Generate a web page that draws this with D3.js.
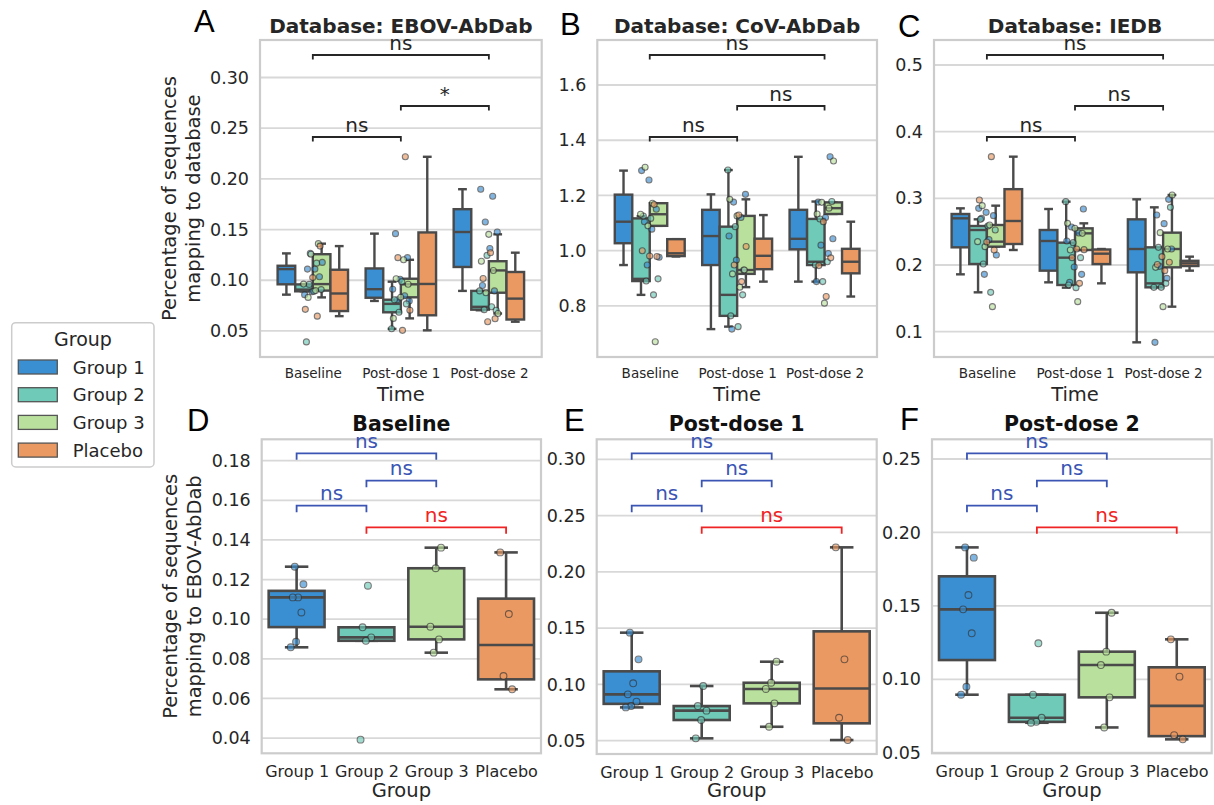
<!DOCTYPE html>
<html><head><meta charset="utf-8">
<script src="https://cdn.jsdelivr.net/npm/d3@7"></script>
<style>
body{margin:0;background:#fff;}
svg{display:block;font-family:"DejaVu Sans",sans-serif;}
</style></head><body>
<svg id="chart" width="1214" height="805"></svg>
<script>
// ---------------- DATA ----------------
const groups = ["Group 1", "Group 2", "Group 3", "Placebo"];
const times = ["Baseline", "Post-dose 1", "Post-dose 2"];

// EBOV-AbDab (% of sequences), per time point, per group
const ebovBaseline = [
  [0.1265, 0.1176, 0.1110, 0.1110, 0.1034, 0.0886, 0.0858],
  [0.1169, 0.0959, 0.0908, 0.0891, 0.0392],
  [0.1361, 0.1257, 0.0962, 0.0898, 0.0831],
  [0.1337, 0.1026, 0.0713, 0.0646]
];
const ebovPost1 = [
  [0.1460, 0.1223, 0.1010, 0.0912, 0.0847, 0.0808, 0.0796],
  [0.0986, 0.0808, 0.0767, 0.0684, 0.0521],
  [0.1202, 0.1015, 0.0960, 0.0832, 0.0624],
  [0.2218, 0.1223, 0.0704, 0.0506]
];
const ebovPost2 = [
  [0.1898, 0.1828, 0.1574, 0.1476, 0.1313, 0.0949, 0.0895],
  [0.1245, 0.0895, 0.0738, 0.0710, 0.0704],
  [0.1453, 0.1188, 0.1097, 0.0877, 0.0672],
  [0.1272, 0.1018, 0.0620, 0.0591]
];
// CoV-AbDab
const covBaseline = [
  [0.948, 0.976, 1.078, 1.105, 1.150, 1.256, 1.290],
  [0.840, 0.890, 0.898, 1.117, 1.125],
  [0.670, 1.090, 1.132, 1.172, 1.302],
  [0.979, 0.981, 1.000, 1.167]
];
const covPost1 = [
  [0.716, 0.930, 0.966, 1.053, 1.120, 1.176, 1.204],
  [0.725, 0.764, 0.840, 1.087, 1.292],
  [0.868, 0.916, 0.930, 1.126, 1.186],
  [0.888, 0.948, 1.015, 1.129]
];
const covPost2 = [
  [0.888, 0.990, 1.020, 1.043, 1.120, 1.176, 1.340],
  [0.888, 0.948, 0.960, 1.115, 1.178],
  [0.810, 1.133, 1.154, 1.175, 1.325],
  [0.834, 0.946, 0.974, 1.105]
];
// IEDB
const iedbBaseline = [
  [0.186, 0.215, 0.238, 0.270, 0.274, 0.279, 0.285],
  [0.159, 0.2015, 0.2525, 0.2585, 0.2685],
  [0.1375, 0.2275, 0.235, 0.260, 0.289],
  [0.2225, 0.2345, 0.2975, 0.3625]
];
const iedbPost1 = [
  [0.174, 0.186, 0.197, 0.236, 0.248, 0.257, 0.284],
  [0.166, 0.170, 0.211, 0.2335, 0.295],
  [0.145, 0.2225, 0.2475, 0.255, 0.2625],
  [0.1725, 0.211, 0.223, 0.224]
];
const iedbPost2 = [
  [0.084, 0.180, 0.198, 0.224, 0.262, 0.275, 0.2985],
  [0.1665, 0.1665, 0.1725, 0.2265, 0.2865],
  [0.1375, 0.1965, 0.224, 0.2485, 0.305],
  [0.1915, 0.2008, 0.2042, 0.2125]
];

// tick labels
const ticksA = [0.05, 0.10, 0.15, 0.20, 0.25, 0.30];
const ticksB = [0.8, 1.0, 1.2, 1.4, 1.6];
const ticksC = [0.1, 0.2, 0.3, 0.4, 0.5];
const ticksD = [0.04, 0.06, 0.08, 0.10, 0.12, 0.14, 0.16, 0.18];
const ticksE = [0.05, 0.10, 0.15, 0.20, 0.25, 0.30];
const ticksF = [0.05, 0.10, 0.15, 0.20, 0.25];

// statistical annotations
const timeTests = [["Baseline", "Post-dose 1"], ["Post-dose 1", "Post-dose 2"], ["Baseline", "Post-dose 2"]];
const ebovTimeLabels = ["ns", "*", "ns"];
const covTimeLabels = ["ns", "ns", "ns"];
const iedbTimeLabels = ["ns", "ns", "ns"];
const groupTests = [["Group 1", "Group 2"], ["Group 2", "Group 3"], ["Group 1", "Group 3"], ["Group 2", "Placebo"]];
const groupTestLabels = ["ns", "ns", "ns", "ns"];

// ---------------- STYLE ----------------
const COLORS = ["#3a8fd3", "#6fcab8", "#b9e09c", "#eb9962"];
const EDGE = "#4a4a4a";
const TXT = "#262626";
const BLUE = "#3a55b4", RED = "#f02424";

const svg = d3.select("#chart");

function boxStats(vals) {
  const s = vals.slice().sort(d3.ascending);
  const q1 = d3.quantile(s, 0.25), med = d3.quantile(s, 0.5), q3 = d3.quantile(s, 0.75);
  const iqr = q3 - q1;
  const hi = q3 + 1.5 * iqr, lo = q1 - 1.5 * iqr;
  let whi = d3.max(s.filter(v => v <= hi)); if (whi === undefined || whi < q3) whi = q3;
  let wlo = d3.min(s.filter(v => v >= lo)); if (wlo === undefined || wlo > q1) wlo = q1;
  return {q1, med, q3, whi, wlo};
}
function jit(i) { return ((i * 0.6180339887 + 0.37) % 1) * 2 - 1; }

function drawPanel(p) {
  const g = svg.append("g");
  const x = d3.scalePoint().domain(p.cats).range([p.left, p.right]).padding(p.pad);
  const y = d3.scaleLinear().domain(p.domain).range([p.bottom, p.top]);
  const step = x.step();

  // grid
  g.selectAll("line.grid").data(p.ticks).join("line")
    .attr("x1", p.left).attr("x2", p.right)
    .attr("y1", d => y(d)).attr("y2", d => y(d))
    .attr("stroke", "#d8d8d8").attr("stroke-width", 1.8);

  // boxes
  const boxes = [], pts = [];
  if (p.mode === "hue") {
    p.cats.forEach((c, ci) => {
      let k = 0;
      p.data[ci].forEach((vals, gi) => {
        boxes.push({cx: x(c) + (gi - 1.5) * 0.2 * step, w: 0.2 * step, gi, st: boxStats(vals)});
        vals.forEach(v => { pts.push({x: x(c) + jit(k + ci * 3) * 0.11 * step, v, gi}); k++; });
      });
    });
  } else {
    p.data.forEach((vals, gi) => {
      boxes.push({cx: x(p.cats[gi]), w: 0.8 * step, gi, st: boxStats(vals)});
      vals.forEach((v, k) => pts.push({x: x(p.cats[gi]) + jit(k + gi * 2) * 0.1 * step, v, gi}));
    });
  }
  const bg = g.selectAll("g.box").data(boxes).join("g");
  const capF = p.mode === "hue" ? 0.5 : 0.42;
  bg.append("line").attr("x1", d => d.cx).attr("x2", d => d.cx)
    .attr("y1", d => y(d.st.q3)).attr("y2", d => y(d.st.whi));
  bg.append("line").attr("x1", d => d.cx).attr("x2", d => d.cx)
    .attr("y1", d => y(d.st.q1)).attr("y2", d => y(d.st.wlo));
  bg.append("line").attr("x1", d => d.cx - d.w * capF / 2).attr("x2", d => d.cx + d.w * capF / 2)
    .attr("y1", d => y(d.st.whi)).attr("y2", d => y(d.st.whi));
  bg.append("line").attr("x1", d => d.cx - d.w * capF / 2).attr("x2", d => d.cx + d.w * capF / 2)
    .attr("y1", d => y(d.st.wlo)).attr("y2", d => y(d.st.wlo));
  bg.append("rect").attr("x", d => d.cx - d.w / 2).attr("width", d => d.w)
    .attr("y", d => y(d.st.q3)).attr("height", d => Math.max(0.5, y(d.st.q1) - y(d.st.q3)))
    .attr("fill", d => COLORS[d.gi]);
  bg.append("line").attr("x1", d => d.cx - d.w / 2).attr("x2", d => d.cx + d.w / 2)
    .attr("y1", d => y(d.st.med)).attr("y2", d => y(d.st.med));
  bg.selectAll("line,rect").attr("stroke", EDGE).attr("stroke-width", p.mode === "hue" ? 2.4 : 2.6);

  // points
  g.selectAll("circle.pt").data(pts).join("circle")
    .attr("cx", d => d.x).attr("cy", d => y(d.v)).attr("r", p.mode === "hue" ? 3 : 3.4)
    .attr("fill", d => COLORS[d.gi]).attr("stroke", "#333").attr("stroke-width", 1.1)
    .attr("opacity", 0.65);

  // frame
  g.append("rect").attr("x", p.left).attr("y", p.top)
    .attr("width", p.right - p.left).attr("height", p.bottom - p.top)
    .attr("fill", "none").attr("stroke", "#cccccc").attr("stroke-width", 2.2);

  // y axis
  const ya = g.append("g").attr("transform", `translate(${p.left},0)`)
    .call(d3.axisLeft(y).tickValues(p.ticks).tickFormat(d3.format(p.fmt)).tickSize(0).tickPadding(11));
  ya.select(".domain").remove();
  ya.selectAll("text").attr("font-size", 17.5).attr("fill", TXT).attr("font-family", "DejaVu Sans");

  // x axis
  const xa = g.append("g").attr("transform", `translate(0,${p.bottom})`)
    .call(d3.axisBottom(x).tickSize(0));
  xa.select(".domain").remove();
  const xt = xa.selectAll("text").attr("fill", TXT).attr("font-family", "DejaVu Sans").attr("dy", null);
  if (p.mode === "hue") {
    xt.attr("font-size", 13.5).attr("y", 21);
  } else {
    xt.attr("font-size", 16).attr("y", 23.5);
  }
  g.append("text").attr("x", (p.left + p.right) / 2).attr("y", p.xlabY)
    .attr("text-anchor", "middle").attr("font-size", 19.5).attr("fill", TXT).text(p.xlabel);

  // title
  g.append("text").attr("x", (p.left + p.right) / 2).attr("y", p.titleY)
    .attr("text-anchor", "middle").attr("font-size", p.titleSize).attr("font-weight", "bold")
    .attr("fill", p.titleColor).text(p.title);
  // letter
  g.append("text").attr("x", p.letterX).attr("y", p.letterY)
    .attr("font-family", "Liberation Sans, Arial, sans-serif").attr("font-size", 31)
    .attr("fill", "#000").text(p.letter);

  // y label
  if (p.ylabel) {
    const cy = (p.top + p.bottom) / 2;
    p.ylabel.forEach((line, i) => {
      g.append("text").attr("transform", `translate(${p.ylabX[i]},${cy}) rotate(-90)`)
        .attr("text-anchor", "middle").attr("font-size", 19.5).attr("fill", TXT).text(line);
    });
  }

  // brackets
  p.tests.forEach((t, i) => {
    const yy = p.top + p.levels[i];
    const x1 = x(t[0]), x2 = x(t[1]);
    const col = p.testColors[i];
    g.append("path").attr("d", `M${x1},${yy + p.tick}V${yy}H${x2}V${yy + p.tick}`)
      .attr("fill", "none").attr("stroke", col).attr("stroke-width", 1.8);
    g.append("text").attr("x", (x1 + x2) / 2).attr("y", yy - 5.5)
      .attr("text-anchor", "middle").attr("font-size", 20).attr("fill", col).text(p.testLabels[i]);
  });
}

const topCommon = {top: 40, bottom: 357, cats: times, pad: 0.6, mode: "hue", xlabel: "Time", xlabY: 401,
  titleY: 32.5, titleSize: 20, titleColor: TXT, tests: timeTests, levels: [97, 66, 15], tick: 4.5,
  testColors: [TXT, TXT, TXT]};
drawPanel(Object.assign({}, topCommon, {left: 260, right: 541.7, domain: [0.0243, 0.337], ticks: ticksA, fmt: ".2f",
  data: [ebovBaseline, ebovPost1, ebovPost2], title: "Database: EBOV-AbDab", letter: "A", letterX: 194, letterY: 32,
  ylabel: ["Percentage of sequences", "mapping to database"], ylabX: [176, 199.5], testLabels: ebovTimeLabels}));
drawPanel(Object.assign({}, topCommon, {left: 597.3, right: 877, domain: [0.615, 1.763], ticks: ticksB, fmt: ".1f",
  data: [covBaseline, covPost1, covPost2], title: "Database: CoV-AbDab", letter: "B", letterX: 560, letterY: 35,
  testLabels: covTimeLabels}));
drawPanel(Object.assign({}, topCommon, {left: 934, right: 1216, domain: [0.062, 0.5375], ticks: ticksC, fmt: ".1f",
  data: [iedbBaseline, iedbPost1, iedbPost2], title: "Database: IEDB", letter: "C", letterX: 898, letterY: 37,
  testLabels: iedbTimeLabels}));

const botCommon = {top: 439.3, cats: groups, pad: 0.5, mode: "single", xlabel: "Group", xlabY: 797,
  titleY: 430.5, titleSize: 20.5, titleColor: "#111", tests: groupTests, levels: [66.4, 41.4, 14, 88], tick: 6.5,
  testColors: [BLUE, BLUE, BLUE, RED], testLabels: groupTestLabels};
drawPanel(Object.assign({}, botCommon, {left: 261.7, right: 541, bottom: 753.3, domain: [0.0323, 0.1908], ticks: ticksD, fmt: ".2f",
  data: ebovBaseline, title: "Baseline", letter: "D", letterX: 187, letterY: 431,
  ylabel: ["Percentage of sequences", "mapping to EBOV-AbDab"], ylabX: [177, 200.5]}));
drawPanel(Object.assign({}, botCommon, {left: 596.7, right: 876.7, bottom: 754, domain: [0.0382, 0.3178], ticks: ticksE, fmt: ".2f",
  data: ebovPost1, title: "Post-dose 1", letter: "E", letterX: 564, letterY: 431}));
drawPanel(Object.assign({}, botCommon, {left: 932, right: 1211.7, bottom: 753.3, domain: [0.0496, 0.2634], ticks: ticksF, fmt: ".2f",
  data: ebovPost2, title: "Post-dose 2", letter: "F", letterX: 900, letterY: 430}));

// legend
const lg = svg.append("g");
lg.append("rect").attr("x", 11.7).attr("y", 322.7).attr("width", 142.3).attr("height", 144.3).attr("rx", 4)
  .attr("fill", "#fff").attr("stroke", "#cccccc").attr("stroke-width", 1.5);
lg.append("text").attr("x", 83).attr("y", 346).attr("text-anchor", "middle").attr("font-size", 19).attr("fill", TXT).text("Group");
const le = lg.selectAll("g.item").data(groups).join("g")
  .attr("transform", (d, i) => `translate(0,${360 + i * 27.7})`);
le.append("rect").attr("x", 18.3).attr("y", 0).attr("width", 39).attr("height", 14)
  .attr("fill", (d, i) => COLORS[i]).attr("stroke", "#555").attr("stroke-width", 1.3);
le.append("text").attr("x", 72.7).attr("y", 13.5).attr("font-size", 18).attr("fill", TXT).text(d => d);
</script>
</body></html>
